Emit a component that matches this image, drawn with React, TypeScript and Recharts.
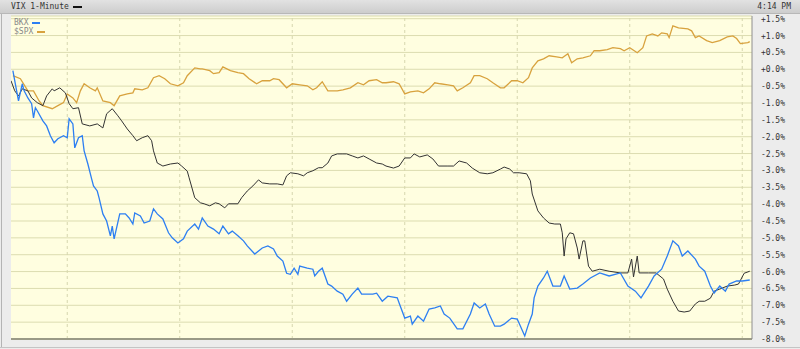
import React from 'react';
import { LineChart, Line, XAxis, YAxis, CartesianGrid, ReferenceLine } from 'recharts';

// minutes after 9:30 open, percent change since open
const vixPoints: [number, number][] = [
  [0, -0.34], [2, -0.64], [4, -0.79], [6, -0.58], [9, -0.64], [11, -0.85], [14, -0.99], [17, -1.08], [19, -0.79],
  [22, -0.58], [23, -0.64], [26, -0.55], [29, -0.7], [31, -1.02], [33, -1.17], [36, -1.14], [38, -1.62], [42, -1.68],
  [46, -1.62], [49, -1.74], [51, -1.32], [54, -1.17], [57, -1.38], [59, -1.53], [62, -1.77], [65, -1.97], [67, -2.12],
  [70, -2.03], [73, -1.97], [75, -2.12], [76, -2.42], [78, -2.78], [81, -2.87], [85, -2.81], [89, -2.78], [91, -2.87],
  [94, -3.02], [95, -3.22], [98, -3.81], [101, -3.96], [103, -3.99], [106, -4.05], [109, -3.96], [111, -3.99],
  [114, -4.11], [116, -3.99], [121, -3.99], [123, -3.81], [126, -3.61], [129, -3.46], [132, -3.28], [134, -3.37],
  [138, -3.4], [142, -3.4], [145, -3.43], [147, -3.16], [149, -3.07], [153, -3.1], [156, -3.16], [158, -3.07],
  [161, -3.01], [164, -2.92], [166, -2.92], [169, -2.78], [171, -2.57], [174, -2.51], [177, -2.51], [179, -2.51],
  [182, -2.57], [185, -2.63], [188, -2.57], [191, -2.66], [195, -2.78], [198, -2.81], [200, -2.87], [204, -2.93],
  [207, -2.87], [210, -2.63], [213, -2.63], [215, -2.51], [218, -2.6], [222, -2.54], [225, -2.66], [228, -2.87],
  [233, -2.87], [236, -2.87], [239, -2.72], [243, -2.78], [246, -2.93], [250, -3.07], [254, -3.1], [257, -3.07],
  [261, -2.96], [263, -2.9], [266, -2.96], [268, -3.07], [271, -3.07], [275, -3.1], [277, -3.31], [278, -3.7],
  [281, -4.2], [284, -4.41], [287, -4.56], [290, -4.59], [293, -4.59], [294, -4.85], [295, -5.54], [296, -5.03],
  [298, -4.85], [300, -4.88], [302, -5.3], [303, -5.63], [305, -5.09], [306, -5.09], [308, -5.84], [310, -5.99],
  [314, -5.93], [319, -5.99], [325, -6.04], [329, -6.04], [331, -5.63], [332, -6.16], [334, -5.54], [335, -6.04],
  [340, -6.04], [344, -6.04], [348, -6.22], [350, -6.52], [353, -6.88], [356, -7.17], [359, -7.2], [362, -7.17],
  [365, -6.96], [367, -6.88], [370, -6.88], [373, -6.79], [375, -6.58], [378, -6.52], [382, -6.43], [386, -6.4],
  [388, -6.37], [391, -6.05], [394, -5.99],
];

const bkxPoints: [number, number][] = [
  [1, -0.04], [3, -0.64], [4, -0.94], [6, -0.43], [7, -0.64], [9, -0.85], [11, -1.02], [12, -1.44], [13, -1.14],
  [14, -1.23], [17, -1.53], [19, -1.68], [21, -1.97], [23, -2.18], [25, -2.06], [28, -1.97], [30, -2.03], [31, -1.47],
  [33, -1.62], [34, -2.33], [36, -2.03], [38, -1.97], [39, -2.42], [41, -2.81], [43, -3.25], [44, -3.46], [46, -3.61],
  [47, -3.82], [49, -4.29], [51, -4.5], [53, -4.94], [54, -4.65], [55, -5.03], [58, -4.29], [61, -4.29], [63, -4.41],
  [65, -4.59], [66, -4.26], [69, -4.35], [71, -4.56], [74, -4.5], [76, -4.14], [78, -4.29], [81, -4.44], [84, -4.85],
  [86, -5.0], [89, -5.15], [92, -5.03], [94, -4.8], [98, -4.59], [100, -4.74], [102, -4.41], [105, -4.65],
  [108, -4.74], [111, -4.88], [113, -4.65], [116, -4.88], [118, -4.8], [121, -4.94], [124, -5.09], [126, -5.24],
  [130, -5.48], [134, -5.3], [137, -5.24], [140, -5.33], [142, -5.54], [145, -5.69], [147, -6.05], [149, -6.08],
  [151, -5.9], [153, -6.08], [154, -5.84], [158, -5.9], [161, -5.93], [162, -6.13], [164, -5.99], [166, -5.9],
  [169, -6.37], [171, -6.43], [174, -6.58], [177, -6.67], [179, -6.88], [182, -6.67], [185, -6.49], [187, -6.67],
  [190, -6.67], [193, -6.67], [195, -6.64], [198, -6.88], [201, -6.73], [206, -6.78], [207, -6.93], [210, -7.38],
  [213, -7.32], [214, -7.56], [217, -7.32], [220, -7.47], [223, -7.11], [226, -7.08], [229, -7.02], [231, -7.26],
  [234, -7.38], [238, -7.7], [241, -7.7], [245, -7.26], [247, -6.93], [250, -7.08], [253, -6.96], [255, -7.26],
  [258, -7.62], [261, -7.62], [263, -7.56], [267, -7.38], [270, -7.41], [271, -7.53], [274, -7.91], [276, -7.56],
  [278, -7.26], [279, -6.78], [281, -6.43], [284, -6.19], [286, -5.99], [289, -6.43], [293, -6.43], [295, -6.13],
  [298, -6.52], [302, -6.49], [305, -6.37], [309, -6.19], [314, -6.04], [319, -6.13], [325, -6.04], [329, -6.43],
  [333, -6.58], [336, -6.78], [340, -6.43], [343, -6.13], [347, -5.93], [350, -5.54], [353, -5.09], [356, -5.24],
  [358, -5.54], [361, -5.39], [365, -5.63], [367, -5.84], [370, -5.99], [373, -6.43], [375, -6.64], [378, -6.43],
  [381, -6.58], [383, -6.37], [387, -6.28], [390, -6.28], [394, -6.25],
];

const spxPoints: [number, number][] = [
  [1, -0.19], [5, -0.28], [9, -0.64], [12, -0.64], [15, -0.94], [17, -1.08], [22, -1.17], [25, -1.08], [28, -0.99],
  [30, -0.73], [33, -0.85], [35, -0.99], [37, -0.64], [39, -0.43], [42, -0.55], [45, -0.64], [46, -0.55], [49, -0.94],
  [53, -0.99], [55, -1.08], [58, -0.79], [62, -0.73], [65, -0.7], [66, -0.58], [70, -0.61], [73, -0.55], [76, -0.25],
  [79, -0.19], [82, -0.28], [85, -0.43], [89, -0.49], [92, -0.4], [94, -0.19], [98, 0.04], [101, 0.01], [102, 0.01],
  [106, -0.04], [108, -0.13], [111, -0.1], [113, 0.07], [117, -0.04], [121, -0.1], [124, -0.13], [127, -0.28],
  [131, -0.43], [134, -0.34], [138, -0.34], [140, -0.28], [143, -0.31], [147, -0.55], [150, -0.43], [154, -0.46],
  [158, -0.49], [161, -0.61], [163, -0.55], [166, -0.37], [169, -0.64], [172, -0.64], [174, -0.64], [177, -0.61],
  [181, -0.55], [185, -0.4], [188, -0.46], [191, -0.34], [195, -0.31], [198, -0.4], [200, -0.4], [204, -0.37],
  [207, -0.43], [210, -0.73], [213, -0.67], [217, -0.64], [220, -0.7], [223, -0.58], [226, -0.4], [229, -0.43],
  [233, -0.46], [236, -0.49], [238, -0.64], [241, -0.55], [245, -0.4], [247, -0.19], [250, -0.19], [254, -0.28],
  [257, -0.4], [261, -0.55], [263, -0.55], [267, -0.34], [270, -0.34], [273, -0.4], [276, -0.25], [278, 0.04],
  [281, 0.25], [284, 0.31], [287, 0.4], [291, 0.37], [294, 0.34], [297, 0.46], [299, 0.19], [302, 0.31], [305, 0.34],
  [309, 0.4], [311, 0.55], [314, 0.55], [318, 0.58], [321, 0.64], [325, 0.61], [327, 0.55], [330, 0.64], [334, 0.49],
  [337, 0.64], [339, 0.99], [342, 1.05], [345, 0.99], [347, 1.08], [350, 1.05], [351, 0.94], [353, 1.29], [356, 1.23],
  [361, 1.2], [363, 1.14], [365, 0.94], [367, 0.99], [371, 0.85], [374, 0.79], [378, 0.85], [382, 0.96], [385, 0.99],
  [387, 0.91], [389, 0.76], [393, 0.79], [394, 0.82],
];

// hourly gridlines 10:00 .. 16:00
const hourMarks = [30, 90, 150, 210, 270, 330, 390];
const pctTicks = [1.5, 1.0, 0.5, 0, -0.5, -1.0, -1.5, -2.0, -2.5, -3.0, -3.5, -4.0, -4.5, -5.0, -5.5, -6.0, -6.5, -7.0, -7.5, -8.0];

const MONO = '"DejaVu Sans Mono", "Liberation Mono", monospace';

const toRows = (pts: [number, number][]) => pts.map(([m, v]) => ({ m, v }));

const fmtPct = (v: number) => (v > -0.001 ? '+' : '-') + Math.abs(v).toFixed(1) + '%';

const PctTick = (props: any) => {
  const { y, payload } = props;
  return (
    <text x={785} y={y} dy={3} textAnchor="end" fontSize={8} fontFamily={MONO} fill="#333">
      {fmtPct(payload.value)}
    </text>
  );
};

const App: React.FC = () => {
  return (
    <div style={{ position: 'absolute', left: 0, top: 0, width: 800, height: 349, background: '#ececec', overflow: 'hidden' }}>
      {/* header bar */}
      <div
        style={{
          position: 'absolute', left: 0, top: 0, width: 800, height: 13,
          background: 'linear-gradient(#e2e2e2, #cdcdcd)', borderBottom: '1px solid #b8b8b8',
        }}
      />
      <div style={{ position: 'absolute', left: 1, top: 14, width: 1, height: 333, background: '#b4b4b4' }} />
      <div style={{ position: 'absolute', left: 0, top: 347, width: 800, height: 1, background: '#c4c4c4' }} />

      <div style={{ position: 'absolute', left: 0, top: 0 }}>
        <LineChart width={800} height={349} margin={{ top: 16, right: 0, left: 11, bottom: 10 }}>
          <CartesianGrid vertical={false} stroke="#dcdcb0" fill="#fffee0" fillOpacity={1} />
          <XAxis type="number" dataKey="m" domain={[0, 395.2]} hide allowDataOverflow />
          <YAxis
            orientation="right"
            width={48}
            domain={[-8, 1.58]}
            ticks={pctTicks}
            interval={0}
            allowDataOverflow
            axisLine={{ stroke: '#8e8e8e' }}
            tickLine={false}
            tick={<PctTick />}
          />
          {hourMarks.map((h) => (
            <ReferenceLine key={h} x={h} stroke="#d6d6ae" strokeDasharray="3 3" />
          ))}
          <ReferenceLine y={-8} stroke="#9a9a86" strokeWidth={2} />
          <Line data={toRows(spxPoints)} dataKey="v" type="linear" stroke="#d8a23e" strokeWidth={1.3} dot={false} isAnimationActive={false} />
          <Line data={toRows(vixPoints)} dataKey="v" type="linear" stroke="#333333" strokeWidth={1} dot={false} isAnimationActive={false} />
          <Line data={toRows(bkxPoints)} dataKey="v" type="linear" stroke="#2d7ff2" strokeWidth={1.3} dot={false} isAnimationActive={false} />
        </LineChart>
      </div>

      {/* title and legend */}
      <div style={{ position: 'absolute', left: 11, top: 1, fontFamily: MONO, fontSize: 8, color: '#333', lineHeight: '11px', whiteSpace: 'nowrap' }}>
        VIX 1-Minute
        <span style={{ display: 'inline-block', width: 9, height: 2, background: '#111', marginLeft: 4, verticalAlign: 'middle' }} />
      </div>
      <div style={{ position: 'absolute', right: 9, top: 1, fontFamily: MONO, fontSize: 8, color: '#333', lineHeight: '11px' }}>4:14 PM</div>
      <div style={{ position: 'absolute', left: 14, top: 18, fontFamily: MONO, fontSize: 8, color: '#888', lineHeight: '9px' }}>
        <div>
          BKX<span style={{ display: 'inline-block', width: 8, height: 2, background: '#2d7ff2', marginLeft: 4, verticalAlign: 'middle' }} />
        </div>
        <div>
          $SPX<span style={{ display: 'inline-block', width: 8, height: 2, background: '#d8a23e', marginLeft: 4, verticalAlign: 'middle' }} />
        </div>
      </div>
    </div>
  );
};

export default App;
